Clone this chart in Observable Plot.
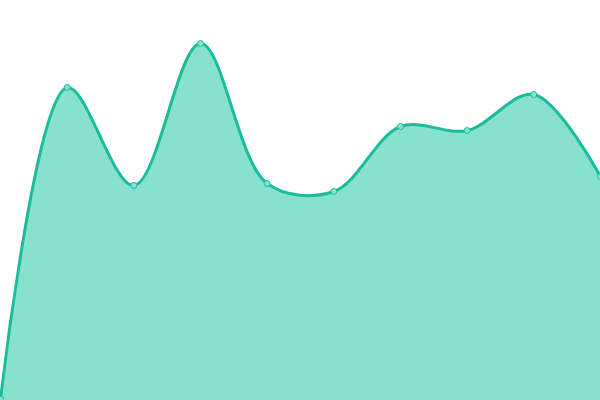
<!DOCTYPE html>
<html>
<head>
<meta charset="utf-8">
<script src="https://cdn.jsdelivr.net/npm/d3@7"></script>
<script src="https://cdn.jsdelivr.net/npm/@observablehq/plot@0.6"></script>
<style>
  html, body { margin: 0; padding: 0; background: #fff; overflow: hidden; }
</style>
</head>
<body>
<div id="chart"></div>
<script>
const labels = ["1", "2", "3", "4", "5", "6", "7", "8", "9", "10"];
const values = [1, 313, 215, 357, 217, 209, 274, 270, 306, 224];

const data = labels.map((l, i) => ({ i, label: l, value: values[i] }));

const chart = Plot.plot({
  width: 600,
  height: 400,
  margin: 0,
  x: { domain: [0, labels.length - 1], axis: null },
  y: { domain: [0, 400], axis: null },
  marks: [
    Plot.areaY(data, { x: "i", y: "value", curve: "catmull-rom", fill: "#88e0cf" }),
    Plot.lineY(data, { x: "i", y: "value", curve: "catmull-rom", stroke: "#1abc9c", strokeWidth: 3 }),
    Plot.dot(data, { x: "i", y: "value", r: 3, fill: "#8de0cf", stroke: "#1abc9c", strokeWidth: 1 })
  ]
});
document.getElementById("chart").appendChild(chart);
</script>
</body>
</html>
